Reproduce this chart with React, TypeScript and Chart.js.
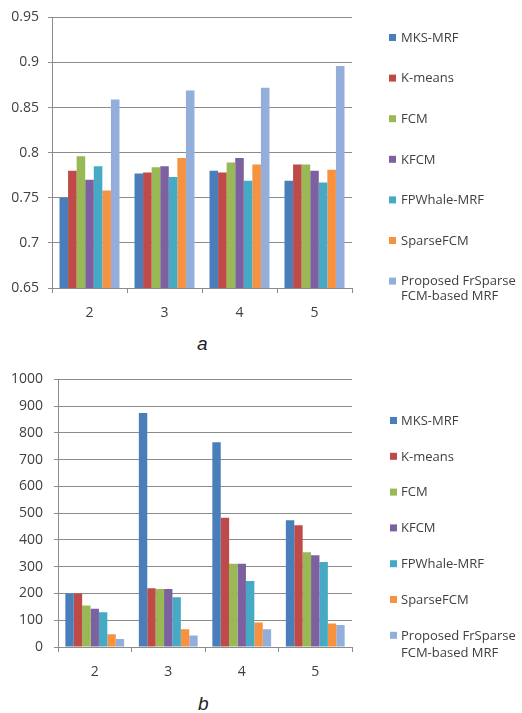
import React, { useEffect, useRef } from "react";
import { Chart, registerables } from "chart.js";

Chart.register(...registerables);

// ---------- data ----------
const categories = ["2", "3", "4", "5"];
const legendLines: string[][] = [
  ["MKS-MRF"],
  ["K-means"],
  ["FCM"],
  ["KFCM"],
  ["FPWhale-MRF"],
  ["SparseFCM"],
  ["Proposed FrSparse", "FCM-based MRF"],
];
const seriesNames = legendLines.map((l) => l.join(" "));
const colors = ["#4A7EBB", "#BE4B48", "#98B954", "#7D60A0", "#46AAC5", "#F69240", "#94AEDB"];

// chart a
const aMKS = [0.75, 0.777, 0.78, 0.769];
const aKmeans = [0.78, 0.778, 0.778, 0.787];
const aFCM = [0.796, 0.784, 0.789, 0.787];
const aKFCM = [0.77, 0.785, 0.794, 0.78];
const aFPWhale = [0.785, 0.773, 0.769, 0.767];
const aSparseFCM = [0.758, 0.794, 0.787, 0.781];
const aProposed = [0.859, 0.869, 0.872, 0.896];
const aTicks = [0.65, 0.7, 0.75, 0.8, 0.85, 0.9, 0.95];
const aTickLabels = ["0.65", "0.7", "0.75", "0.8", "0.85", "0.9", "0.95"];

// chart b
const bMKS = [200, 874, 765, 474];
const bKmeans = [200, 220, 483, 455];
const bFCM = [155, 217, 311, 354];
const bKFCM = [143, 217, 311, 343];
const bFPWhale = [130, 186, 247, 318];
const bSparseFCM = [48, 66, 92, 88];
const bProposed = [30, 43, 66, 82];
const bTicks = [0, 100, 200, 300, 400, 500, 600, 700, 800, 900, 1000];
const bTickLabels = ["0", "100", "200", "300", "400", "500", "600", "700", "800", "900", "1000"];

const aSeries = [aMKS, aKmeans, aFCM, aKFCM, aFPWhale, aSparseFCM, aProposed];
const bSeries = [bMKS, bKmeans, bFCM, bKFCM, bFPWhale, bSparseFCM, bProposed];

const FONT = "'Open Sans', 'Noto Sans', sans-serif";
const TEXT = "#404040";
const GRID = "#8C8C8C";

const legendPlugin = {
  id: "sideLegend",
  afterDraw(chart: any) {
    const o = chart.options.plugins.sideLegend;
    if (!o) return;
    const ctx = chart.ctx;
    ctx.save();
    ctx.font = `13px ${FONT}`;
    ctx.textBaseline = "middle";
    ctx.textAlign = "left";
    legendLines.forEach((lines, i) => {
      const y = o.y0 + i * o.spacing;
      ctx.fillStyle = colors[i];
      ctx.fillRect(o.boxX, y - 4, 7, 7);
      ctx.fillStyle = TEXT;
      lines.forEach((ln, j) => {
        ctx.fillText(ln, o.textX, y + j * o.lineHeight);
      });
    });
    ctx.restore();
  },
};

function makeConfig(
  series: number[][],
  ticks: number[],
  tickLabels: string[],
  min: number,
  max: number,
  yWidth: number,
  top: number,
  xHeight: number,
  yPad: number,
  legend: any
) {
  return {
    type: "bar",
    data: {
      labels: categories,
      datasets: series.map((d, i) => ({
        label: seriesNames[i],
        data: d,
        backgroundColor: colors[i],
        borderWidth: 0,
        categoryPercentage: 0.8,
        barPercentage: 1.0,
      })),
    },
    options: {
      animation: false,
      responsive: false,
      maintainAspectRatio: false,
      layout: { padding: { top, right: 170, left: 0, bottom: 0 } },
      plugins: {
        legend: { display: false },
        tooltip: { enabled: false },
        sideLegend: legend,
      },
      scales: {
        x: {
          offset: true,
          grid: {
            display: true,
            offset: true,
            drawOnChartArea: false,
            drawTicks: true,
            tickLength: 5,
            color: GRID,
          },
          border: { display: true, color: GRID },
          ticks: { font: { family: FONT, size: 14 }, color: TEXT, padding: 12 },
          afterFit(scale: any) {
            scale.height = xHeight;
          },
        },
        y: {
          min,
          max,
          afterBuildTicks(scale: any) {
            scale.ticks = ticks.map((v) => ({ value: v }));
          },
          grid: { color: GRID, drawTicks: true, tickLength: 4 },
          border: { display: true, color: GRID },
          ticks: {
            font: { family: FONT, size: 14 },
            color: TEXT,
            padding: yPad,
            callback: (v: number) => {
              const idx = ticks.findIndex((t) => Math.abs(t - v) < 1e-9);
              return idx >= 0 ? tickLabels[idx] : "";
            },
          },
          afterFit(scale: any) {
            scale.width = yWidth;
          },
        },
      },
    },
    plugins: [legendPlugin],
  } as any;
}

function ChartCanvas({ config, style }: { config: any; style: React.CSSProperties }) {
  const ref = useRef<HTMLCanvasElement>(null);
  useEffect(() => {
    if (!ref.current) return;
    const chart = new Chart(ref.current, config);
    return () => chart.destroy();
  }, []);
  return <canvas ref={ref} width={522} height={330} style={{ position: "absolute", width: 522, height: 330, ...style }} />;
}

export default function App() {
  const cfgA = makeConfig(aSeries, aTicks, aTickLabels, 0.65, 0.95, 52, 15, 42, 9, {
    boxX: 389,
    textX: 401,
    y0: 38,
    spacing: 40.6,
    lineHeight: 15,
  });
  const cfgB = makeConfig(bSeries, bTicks, bTickLabels, 0, 1000, 58, 15, 43, 11, {
    boxX: 390,
    textX: 401,
    y0: 61,
    spacing: 35.8,
    lineHeight: 17,
  });
  const caption: React.CSSProperties = {
    position: "absolute",
    fontFamily: "'Liberation Sans', Arial, sans-serif",
    fontStyle: "italic",
    fontSize: 19,
    color: "#222",
    lineHeight: "20px",
  };
  return (
    <div style={{ position: "absolute", left: 0, top: 0, width: 522, height: 713, background: "#fff", overflow: "hidden" }}>
      <ChartCanvas config={cfgA} style={{ left: 0, top: 0 }} />
      <div style={{ ...caption, left: 197, top: 334 }}>a</div>
      <ChartCanvas config={cfgB} style={{ left: 0, top: 360 }} />
      <div style={{ ...caption, left: 198, top: 694 }}>b</div>
    </div>
  );
}
